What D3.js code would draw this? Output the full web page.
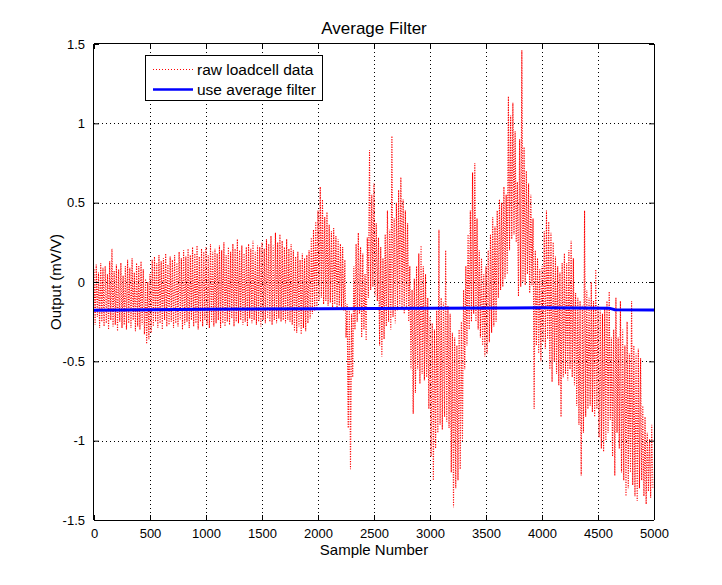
<!DOCTYPE html>
<html><head><meta charset="utf-8">
<script src="https://cdn.jsdelivr.net/npm/d3@7"></script>
<style>
html,body{margin:0;padding:0;background:#fff;}
svg{display:block;font-family:"Liberation Sans",Arial,Helvetica,sans-serif;}
</style></head>
<body>
<svg id="chart" width="722" height="585"></svg>
<script>
// ---- data ----
const title = "Average Filter";
const xLabel = "Sample Number";
const yLabel = "Output (mV/V)";
const legendLabels = ["raw loadcell data", "use average filter"];
const xTicks = [0,500,1000,1500,2000,2500,3000,3500,4000,4500,5000];
const yTicks = [-1.5,-1,-0.5,0,0.5,1,1.5];
const yTickLabels = ["-1.5","-1","-0.5","0","0.5","1","1.5"];
const sampleStep = 10; // raw values below are read every 10 samples
const rawValues = [
 0.08,-0.27,0.11,-0.22,0.06,-0.29,0.12,-0.25,0.09,-0.28,
 0.10,-0.26,0.05,-0.30,0.13,-0.24,0.21,-0.28,0.07,-0.27,
 0.11,-0.31,0.08,-0.25,0.12,-0.29,0.04,-0.27,0.10,-0.30,
 0.14,-0.26,0.09,-0.29,0.15,-0.24,0.06,-0.31,0.12,-0.28,
 0.10,-0.30,0.13,-0.27,0.08,-0.33,0.02,-0.39,0.00,-0.36,
 0.05,-0.32,0.14,-0.28,0.16,-0.25,0.12,-0.29,0.17,-0.26,
 0.13,-0.30,0.15,-0.24,0.18,-0.28,0.11,-0.27,0.16,-0.25,
 0.14,-0.29,0.17,-0.26,0.12,-0.28,0.19,-0.24,0.15,-0.30,
 0.20,-0.27,0.16,-0.25,0.21,-0.29,0.17,-0.24,0.22,-0.28,
 0.18,-0.26,0.23,-0.30,0.16,-0.25,0.21,-0.28,0.19,-0.24,
 0.22,-0.27,0.17,-0.29,0.24,-0.25,0.19,-0.28,0.21,-0.26,
 0.18,-0.24,0.23,-0.29,0.20,-0.26,0.25,-0.28,0.17,-0.25,
 0.22,-0.27,0.19,-0.23,0.24,-0.28,0.21,-0.25,0.27,-0.26,
 0.20,-0.24,0.23,-0.27,0.18,-0.25,0.22,-0.28,0.24,-0.23,
 0.21,-0.26,0.26,-0.24,0.19,-0.27,0.23,-0.25,0.22,-0.28,
 0.25,-0.24,0.21,-0.26,0.27,-0.23,0.24,-0.25,0.29,-0.27,
 0.23,-0.24,0.31,-0.26,0.25,-0.23,0.30,-0.25,0.26,-0.24,
 0.22,-0.26,0.27,-0.24,0.21,-0.25,0.24,-0.27,0.20,-0.31,
 0.16,-0.32,0.19,-0.28,0.14,-0.33,0.18,-0.29,0.15,-0.31,
 0.17,-0.26,0.20,-0.23,0.28,-0.20,0.33,-0.18,0.38,-0.17,
 0.45,-0.12,0.60,-0.10,0.52,-0.14,0.41,-0.12,0.44,-0.15,
 0.36,-0.13,0.32,-0.16,0.34,-0.14,0.29,-0.17,0.27,-0.15,
 0.24,-0.16,0.22,-0.18,0.14,-0.35,-0.14,-0.92,-0.18,-1.18,
 -0.20,-0.60,0.10,-0.30,0.24,-0.25,0.31,-0.20,0.22,-0.35,
 0.18,-0.30,0.05,-0.37,0.28,-0.10,0.83,-0.05,0.55,-0.03,
 0.62,-0.09,0.37,-0.12,0.28,-0.40,0.22,-0.47,0.15,-0.36,
 0.30,-0.28,0.45,-0.25,0.33,-0.30,0.92,-0.22,0.40,-0.26,
 0.50,-0.18,0.58,-0.15,0.66,-0.17,0.52,-0.20,0.45,-0.16,
 0.37,-0.25,0.10,-0.55,-0.05,-0.83,0.02,-0.70,0.10,-0.55,
 0.18,-0.64,0.23,-0.58,0.10,-0.62,0.05,-0.60,-0.10,-0.80,
 -0.22,-1.10,-0.26,-1.25,-0.30,-1.05,-0.18,-0.95,0.33,-0.90,
 -0.10,-0.93,-0.13,-0.85,0.20,-0.88,-0.15,-0.92,-0.20,-1.20,
 -0.32,-1.42,-0.35,-1.30,-0.40,-1.25,-0.30,-1.18,-0.25,-1.00,
 -0.05,-0.55,0.10,-0.40,0.30,-0.30,0.45,-0.25,0.69,-0.20,
 0.75,-0.25,0.40,-0.30,0.20,-0.35,0.15,-0.40,0.05,-0.47,
 0.10,-0.45,0.20,-0.38,0.30,-0.32,0.41,-0.28,0.35,-0.25,
 0.45,-0.10,0.52,-0.05,0.50,-0.03,0.60,0.02,0.55,0.05,
 1.17,0.20,1.05,0.27,1.13,0.30,0.95,0.25,0.63,-0.09,
 0.90,-0.03,1.46,0.00,0.85,-0.02,0.70,0.05,0.62,-0.07,
 0.55,-0.02,0.40,-0.80,0.20,-0.40,0.15,-0.45,0.08,-0.50,
 0.10,-0.38,0.32,-0.42,0.45,-0.36,0.38,-0.55,0.31,-0.63,
 0.25,-0.50,0.16,-0.58,0.10,-0.65,0.06,-0.85,0.12,-0.60,
 0.18,-0.58,0.12,-0.62,0.20,-0.55,0.26,-0.60,0.15,-0.65,
 -0.07,-0.78,-0.10,-0.90,-0.12,-1.22,-0.15,-0.95,0.45,-0.85,
 -0.05,-0.80,-0.10,-0.78,0.00,-0.82,-0.12,-0.85,0.08,-0.80,
 -0.15,-0.98,-0.18,-1.05,-0.20,-1.07,-0.16,-1.00,-0.12,-0.95,
 -0.06,-0.87,-0.35,-1.10,-0.30,-1.22,-0.10,-0.95,-0.35,-1.05,
 -0.12,-1.20,-0.30,-1.25,-0.40,-1.35,-0.25,-1.30,-0.45,-1.20,
 -0.12,-1.28,-0.40,-1.35,-0.45,-1.38,-0.42,-1.30,-0.48,-1.25,
 -0.78,-1.35,-0.85,-1.40,-0.95,-1.32,-0.99,-1.36,-0.90,-1.30
];
const avgSamples = [0,1000,2000,3000,4000,4600,4650,5000];
const avgValues  = [-0.178,-0.172,-0.168,-0.165,-0.163,-0.165,-0.175,-0.176];

// ---- layout ----
const W = 722, H = 585;
const plot = {left:94, right:654, top:44, bottom:520};
const FONT = '"Liberation Sans",Arial,Helvetica,sans-serif';
const svg = d3.select("#chart");
const x = d3.scaleLinear().domain([0,5000]).range([plot.left, plot.right]);
const y = d3.scaleLinear().domain([-1.5,1.5]).range([plot.bottom, plot.top]);

svg.append("rect").attr("width",W).attr("height",H).attr("fill","#fff");

// grid
const grid = svg.append("g").attr("stroke","#000").attr("stroke-width",1)
  .attr("stroke-dasharray","1,3").attr("shape-rendering","crispEdges");
xTicks.slice(1,-1).forEach(t=>{
  grid.append("line").attr("x1",Math.round(x(t))+0.5).attr("x2",Math.round(x(t))+0.5)
    .attr("y1",plot.top).attr("y2",plot.bottom);
});
yTicks.slice(1,-1).forEach(t=>{
  grid.append("line").attr("y1",Math.round(y(t))+0.5).attr("y2",Math.round(y(t))+0.5)
    .attr("x1",plot.left).attr("x2",plot.right);
});

// clip
svg.append("clipPath").attr("id","clip").append("rect")
  .attr("x",plot.left).attr("y",plot.top)
  .attr("width",plot.right-plot.left).attr("height",plot.bottom-plot.top);

const rawData = rawValues.map((v,i)=>({s:i*sampleStep, v}));
const line = d3.line().x(d=>x(d.s)).y(d=>y(d.v));
svg.append("path").datum(rawData).attr("clip-path","url(#clip)")
  .attr("d",line).attr("fill","none").attr("stroke","#ff0000")
  .attr("stroke-width",1.1).attr("stroke-dasharray","1.2,1.3");

const avgData = avgSamples.map((s,i)=>({s, v:avgValues[i]}));
svg.append("path").datum(avgData).attr("clip-path","url(#clip)")
  .attr("d",line).attr("fill","none").attr("stroke","#0000ff")
  .attr("stroke-width",3);

// axes (MATLAB box with inward ticks)
const tickLen = 5;
const axBottom = d3.axisBottom(x).tickValues(xTicks).tickSize(-tickLen).tickPadding(tickLen+4).tickFormat(d3.format("d"));
const axTop = d3.axisTop(x).tickValues(xTicks).tickSize(-tickLen).tickFormat("");
const axLeft = d3.axisLeft(y).tickValues(yTicks).tickSize(-tickLen).tickPadding(tickLen+4).tickFormat((d,i)=>yTickLabels[i]);
const axRight = d3.axisRight(y).tickValues(yTicks).tickSize(-tickLen).tickFormat("");

function style(g){
  g.select(".domain").attr("stroke","#000");
  g.selectAll(".tick line").attr("stroke","#000");
  g.selectAll("text").attr("fill","#000").style("font-size","13px").style("font-family",FONT);
}
svg.append("g").attr("transform",`translate(0,${plot.bottom})`).call(axBottom).call(style).call(g=>g.select(".domain").attr("d",`M${plot.left},0.5H${plot.right}`));
svg.append("g").attr("transform",`translate(0,${plot.top})`).call(axTop).call(style).call(g=>g.select(".domain").attr("d",`M${plot.left},-0.5H${plot.right}`));
svg.append("g").attr("transform",`translate(${plot.left},0)`).call(axLeft).call(style).call(g=>g.select(".domain").attr("d",`M-0.5,${plot.top}V${plot.bottom}`));
svg.append("g").attr("transform",`translate(${plot.right},0)`).call(axRight).call(style).call(g=>g.select(".domain").attr("d",`M0.5,${plot.top}V${plot.bottom}`));

// titles
svg.append("text").attr("x",(plot.left+plot.right)/2).attr("y",34)
  .attr("text-anchor","middle").style("font-size","17px").text(title);
svg.append("text").attr("x",(plot.left+plot.right)/2).attr("y",555)
  .attr("text-anchor","middle").style("font-size","15px").text(xLabel);
svg.append("text").attr("transform",`translate(61,${(plot.top+plot.bottom)/2}) rotate(-90)`)
  .attr("text-anchor","middle").style("font-size","15px").text(yLabel);

// legend
const lg = svg.append("g").attr("transform","translate(145,55)");
lg.append("rect").attr("x",0.5).attr("y",0.5).attr("width",177).attr("height",45)
  .attr("fill","#fff").attr("stroke","#000").attr("stroke-width",1);
lg.append("line").attr("x1",8).attr("x2",48).attr("y1",14.5).attr("y2",14.5)
  .attr("stroke","#ff0000").attr("stroke-width",1).attr("stroke-dasharray","1,2");
lg.append("line").attr("x1",8).attr("x2",48).attr("y1",34.5).attr("y2",34.5)
  .attr("stroke","#0000ff").attr("stroke-width",2.5);
lg.selectAll("text.lbl").data(legendLabels).enter().append("text").attr("class","lbl")
  .attr("x",52).attr("y",(d,i)=>20+i*20).style("font-size","15.5px").text(d=>d);
</script>
</body></html>
